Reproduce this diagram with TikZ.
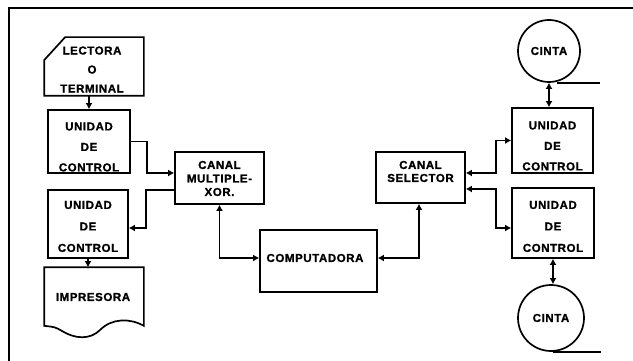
\documentclass[tikz,border=0pt]{standalone}
\usepackage{fontspec}
\newfontfamily\blockfont{Liberation Sans}[LetterSpace=5, BoldFeatures={FakeBold=1.2}]
\usetikzlibrary{arrows.meta}
\newcommand\labelfont{\blockfont\bfseries\fontsize{11.5}{13}\selectfont}

\begin{document}
\begin{tikzpicture}[x=1pt, y=-1pt, line width=1.7pt,
  box/.style={draw, inner sep=0pt, font=\labelfont},
  lbl/.style={inner sep=0pt, align=center, font=\blockfont\bfseries\fontsize{11.5}{#1}\selectfont},
  lbl/.default=20.5,
  feed/.style={-{Latex[length=6pt,width=7pt]}},
  link/.style={{Latex[length=6pt,width=7pt]}-{Latex[length=6pt,width=7pt]}}]

\useasboundingbox (0,0) rectangle (633,361);
\draw (9,361) -- (9,8) -- (633,8);

% entrada y salida
\node[minimum width=98pt, minimum height=57pt, inner sep=0pt] (lector) at (94,66.5) {};
\draw (lector.south west) -- (lector.south east) -- (lector.north east)
  -- ([xshift=21pt]lector.north west) -- ([yshift=-23pt]lector.north west) -- cycle;
\node[lbl=19] (lectortxt) at (92,69.5) {LECTORA\\O\\TERMINAL};

\node[box, minimum width=82pt, minimum height=63pt] (uc1) at (89,141.5) {};
\node[lbl] (uc1txt) at (89,147) {UNIDAD\\DE\\CONTROL};

\node[box, minimum width=80pt, minimum height=68pt] (uc2) at (88,224) {};
\node[lbl=21.5] (uc2txt) at (88,226.5) {UNIDAD\\DE\\CONTROL};

\node[minimum width=98pt, minimum height=57pt, inner sep=0pt] (printer) at (94,296.5) {};
\draw (printer.south west) -- (printer.north west) -- (printer.north east) -- (printer.south east)
  .. controls (130,318) and (112,318) .. (100,330)
  .. controls (90,340) and (75,339) .. (62,331)
  .. controls (55,327) .. (printer.south west) -- cycle;
\node[lbl] (printertxt) at (93,297) {IMPRESORA};

% canales y computadora
\node[box, minimum width=89pt, minimum height=52pt] (mux) at (219.5,178) {};
\node[lbl=13.5] (muxtxt) at (219.5,178.5) {CANAL\\MULTIPLE-\\XOR.};

\node[box, minimum width=117pt, minimum height=62pt] (comp) at (318.5,261) {};
\node[lbl] (comptxt) at (315,258) {COMPUTADORA};

\node[box, minimum width=89pt, minimum height=51pt] (sel) at (420.5,177.5) {};
\node[lbl=13] (seltxt) at (420.5,171.5) {CANAL\\SELECTOR};

% cintas
\node[box, minimum width=81pt, minimum height=65pt] (ucr1) at (552.5,140.5) {};
\node[lbl] (ucr1txt) at (552.5,146) {UNIDAD\\DE\\CONTROL};

\node[box, minimum width=82pt, minimum height=70pt] (ucr2) at (553,223) {};
\node[lbl=21.5] (ucr2txt) at (553,226.5) {UNIDAD\\DE\\CONTROL};

\node[box, circle, minimum size=62pt] (tape1) at (549,51) {CINTA};
\node[box, circle, minimum size=66pt] (tape2) at (551,318) {CINTA};
\draw[line width=2.6pt] ([xshift=8pt]tape1.south) -- ++(43,0);
\draw[line width=2.6pt] ([xshift=2pt]tape2.south) -- ++(48,0);

% conexiones
\draw[feed] (lector.south -| uc1.north) -- (uc1.north);
\draw[feed] (uc1.east) -- ++(16,0) |- ([yshift=5pt]mux.west);
\draw[feed] ([yshift=-12pt]mux.west) -- ++(-28,0) |- ([yshift=-4pt]uc2.east);
\draw[feed] (uc2.south) -- (uc2.south |- printer.north);
\draw[link] (mux.south) |- ([yshift=3pt]comp.west);
\draw[link] ([xshift=-1.5pt]sel.south) |- ([yshift=3pt]comp.east);
\draw[link] ([yshift=4.5pt]sel.east) -- ++(30,0) |- (ucr1.west);
\draw[link] ([yshift=-11.5pt]sel.east) -- ++(30,0) |- ([yshift=-5pt]ucr2.west);
\draw[link] (tape1.south) -- (tape1.south |- ucr1.north);
\draw[link] (ucr2.south) -- (ucr2.south |- tape2.north);

\end{tikzpicture}
\end{document}
